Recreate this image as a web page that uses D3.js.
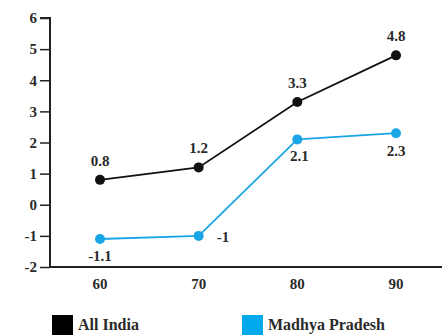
<!DOCTYPE html>
<html>
<head>
<meta charset="utf-8">
<script src="https://cdn.jsdelivr.net/npm/d3@7"></script>
<style>
  html, body { margin: 0; padding: 0; background: #fff; }
  svg text { font-family: "Liberation Serif", "DejaVu Serif", serif; font-size: 15px; font-weight: bold; fill: #2a2a2a; }
  svg text.legend-label { font-size: 16px; }
</style>
</head>
<body>
<svg id="chart" width="442" height="335"></svg>
<script>
const years = ["60", "70", "80", "90"];
const allIndia = [0.8, 1.2, 3.3, 4.8];
const madhyaPradesh = [-1.1, -1, 2.1, 2.3];
const yTicks = [-2, -1, 0, 1, 2, 3, 4, 5, 6];
const seriesNames = ["All India", "Madhya Pradesh"];
const seriesColors = ["#111111", "#1aa6e6"];
const legendColors = ["#000000", "#00a8ec"];

const svg = d3.select("#chart");

const x = d3.scalePoint().domain(years).range([100, 396]);
const y = d3.scaleLinear().domain([-2, 6]).range([267, 18]);

// y axis
const yAxis = d3.axisLeft(y).tickValues(yTicks).tickSize(10).tickPadding(3)
  .tickFormat(d => d);
const gy = svg.append("g").attr("transform", "translate(50,0)").call(yAxis);
gy.select(".domain").attr("stroke", "#222").attr("stroke-width", 2).attr("d", `M-10,${y(6)}H0V${y(-2)}`);
gy.selectAll(".tick line").attr("stroke", "#222").attr("stroke-width", 1.5);
gy.selectAll(".tick text").attr("font-size", null).attr("font-family", null).attr("fill", null);

// x axis baseline
svg.append("line").attr("x1", 49).attr("x2", 442).attr("y1", y(-2)).attr("y2", y(-2))
  .attr("stroke", "#222").attr("stroke-width", 2);
svg.append("g").selectAll("text").data(years).join("text")
  .attr("x", d => x(d)).attr("y", 289).attr("text-anchor", "middle").text(d => d);

const line = d3.line().x((d, i) => x(years[i])).y(d => y(d));

function drawSeries(values, color, labelPos) {
  svg.append("path").datum(values).attr("d", line)
    .attr("fill", "none").attr("stroke", color).attr("stroke-width", 1.8);
  svg.append("g").selectAll("circle").data(values).join("circle")
    .attr("cx", (d, i) => x(years[i])).attr("cy", d => y(d)).attr("r", 5).attr("fill", color);
  svg.append("g").selectAll("text").data(values).join("text")
    .attr("x", (d, i) => x(years[i]) + labelPos[i][0])
    .attr("y", (d, i) => y(d) + labelPos[i][1])
    .attr("text-anchor", (d, i) => labelPos[i][2] || "middle")
    .text(d => d);
}

drawSeries(allIndia, seriesColors[0], [[0, -14], [0, -14], [0, -14], [0, -14]]);
drawSeries(madhyaPradesh, seriesColors[1], [[0, 22], [18, 6, "start"], [2, 22], [0, 23]]);

// legend
const legend = svg.append("g");
const lx = [52, 242];
seriesNames.forEach((name, i) => {
  legend.append("rect").attr("x", lx[i]).attr("y", 315).attr("width", 21).attr("height", 21)
    .attr("fill", legendColors[i]);
  legend.append("text").attr("class", "legend-label").attr("x", lx[i] + 26).attr("y", 330).text(name);
});
</script>
</body>
</html>
